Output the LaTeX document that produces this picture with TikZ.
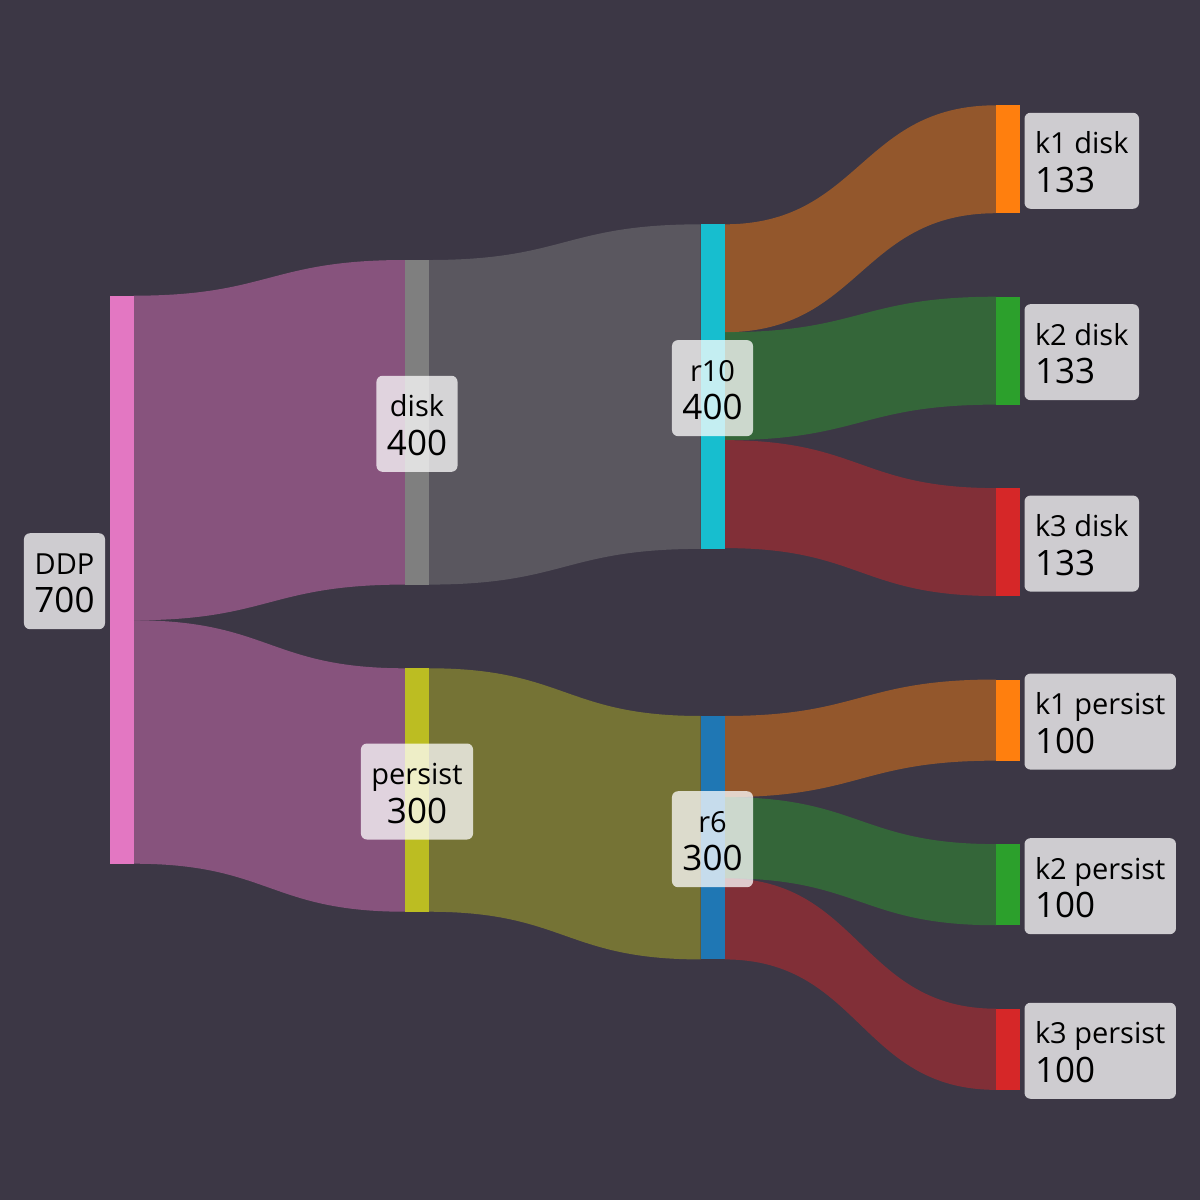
\documentclass[tikz,border=0pt]{standalone}
\usepackage{fontspec}
\setmainfont{Open Sans}
\usetikzlibrary{calc}
\definecolor{bgc}{HTML}{3C3745}
\definecolor{cddp}{HTML}{E377C2}
\definecolor{cdisk}{HTML}{7F7F7F}
\definecolor{cpersist}{HTML}{BCBD22}
\definecolor{cr10}{HTML}{17BECF}
\definecolor{cr6}{HTML}{1F77B4}
\definecolor{ck1}{HTML}{FF7F0E}
\definecolor{ck2}{HTML}{2CA02C}
\definecolor{ck3}{HTML}{D62728}
\pgfdeclarelayer{bglayer}
\pgfdeclarelayer{flowlayer}
\pgfsetlayers{bglayer,flowlayer,main}
\newcommand\lblc[2]{\vtop{\baselineskip=38.5pt\lineskip=0pt\lineskiplimit=-100pt
  \halign{\hfil##\hfil\cr\fontsize{29}{35}\selectfont #1\cr\fontsize{35}{42}\selectfont #2\cr}}}
\newcommand\lbll[2]{\vtop{\baselineskip=38.5pt\lineskip=0pt\lineskiplimit=-100pt
  \halign{##\hfil\cr\fontsize{29}{35}\selectfont #1\cr\fontsize{35}{42}\selectfont #2\cr}}}
\newcommand\sflow[6]{%
  \fill[flowfill=#6] let \p1=(#1.north east), \p2=(#3.north west), \p3=($(\p1)!0.5!(\p2)$) in
  (\x1,\y1-#2pt) .. controls (\x3,\y1-#2pt) and (\x3,\y2-#4pt) .. (\x2,\y2-#4pt)
  -- (\x2,\y2-#4pt-#5pt) .. controls (\x3,\y2-#4pt-#5pt) and (\x3,\y1-#2pt-#5pt) .. (\x1,\y1-#2pt-#5pt) -- cycle;}
\begin{document}
\begin{tikzpicture}[x=1pt,y=-1pt,
  bar/.style={rectangle, inner sep=0pt, outer sep=0pt, minimum width=24pt, draw=none},
  flowfill/.style={fill=#1, fill opacity=0.45},
  labc/.style={rectangle, rounded corners=6pt, fill=white, fill opacity=0.75, text opacity=1,
    text=black, inner xsep=10.5pt, inner ysep=0pt, outer sep=0pt, text height=41pt, text depth=55pt}]
\begin{pgfonlayer}{bglayer}
\fill[bgc] (0,0) rectangle (1200,1200);
\end{pgfonlayer}
\useasboundingbox (0,0) rectangle (1200,1200);
% bars
\node[bar, fill=cddp, minimum height=568pt] (ddp) at (121.5,579.7) {};
\node[bar, fill=cdisk, minimum height=324.57pt] (disk) at (417,422.29) {};
\node[bar, fill=cpersist, minimum height=243.43pt] (persist) at (417,790.0) {};
\node[bar, fill=cr10, minimum height=324.57pt] (r10) at (712.5,386.6) {};
\node[bar, fill=cr6, minimum height=243.43pt] (r6) at (712.5,837.7) {};
\node[bar, fill=ck1, minimum height=107.92pt] (k1d) at (1008,159.26) {};
\node[bar, fill=ck2, minimum height=107.92pt] (k2d) at (1008,350.66) {};
\node[bar, fill=ck3, minimum height=107.92pt] (k3d) at (1008,542.06) {};
\node[bar, fill=ck1, minimum height=81.14pt] (k1p) at (1008,720.07) {};
\node[bar, fill=ck2, minimum height=81.14pt] (k2p) at (1008,884.67) {};
\node[bar, fill=ck3, minimum height=81.14pt] (k3p) at (1008,1049.27) {};
% flows
\begin{pgfonlayer}{flowlayer}
\sflow{ddp}{0}{disk}{0}{324.57}{cddp}
\sflow{ddp}{324.57}{persist}{0}{243.43}{cddp}
\sflow{disk}{0}{r10}{0}{324.57}{cdisk}
\sflow{persist}{0}{r6}{0}{243.43}{cpersist}
\sflow{r10}{0}{k1d}{0}{107.92}{ck1}
\sflow{r10}{107.92}{k2d}{0}{107.92}{ck2}
\sflow{r10}{215.84}{k3d}{0}{107.92}{ck3}
\sflow{r6}{0}{k1p}{0}{81.14}{ck1}
\sflow{r6}{81.14}{k2p}{0}{81.14}{ck2}
\sflow{r6}{162.29}{k3p}{0}{81.14}{ck3}
\end{pgfonlayer}
% labels
\node[labc, anchor=east] (lddp) at ($(ddp.west)+(-4.5,1.5)$) {\lblc{DDP}{700}};
\node[labc] (ldisk) at ($(disk.center)+(0,1.5)$) {\lblc{disk}{400}};
\node[labc] (lpersist) at ($(persist.center)+(0,1.5)$) {\lblc{persist}{300}};
\node[labc] (lr10) at ($(r10.center)+(0,1.5)$) {\lblc{r10}{400}};
\node[labc] (lr6) at ($(r6.center)+(0,1.5)$) {\lblc{r6}{300}};
\node[labc, anchor=west] (lk1d) at ($(k1d.east)+(4.5,1.5)$) {\lbll{k1 disk}{133}};
\node[labc, anchor=west] (lk2d) at ($(k2d.east)+(4.5,1.5)$) {\lbll{k2 disk}{133}};
\node[labc, anchor=west] (lk3d) at ($(k3d.east)+(4.5,1.5)$) {\lbll{k3 disk}{133}};
\node[labc, anchor=west] (lk1p) at ($(k1p.east)+(4.5,1.5)$) {\lbll{k1 persist}{100}};
\node[labc, anchor=west] (lk2p) at ($(k2p.east)+(4.5,1.5)$) {\lbll{k2 persist}{100}};
\node[labc, anchor=west] (lk3p) at ($(k3p.east)+(4.5,1.5)$) {\lbll{k3 persist}{100}};
\end{tikzpicture}
\end{document}
